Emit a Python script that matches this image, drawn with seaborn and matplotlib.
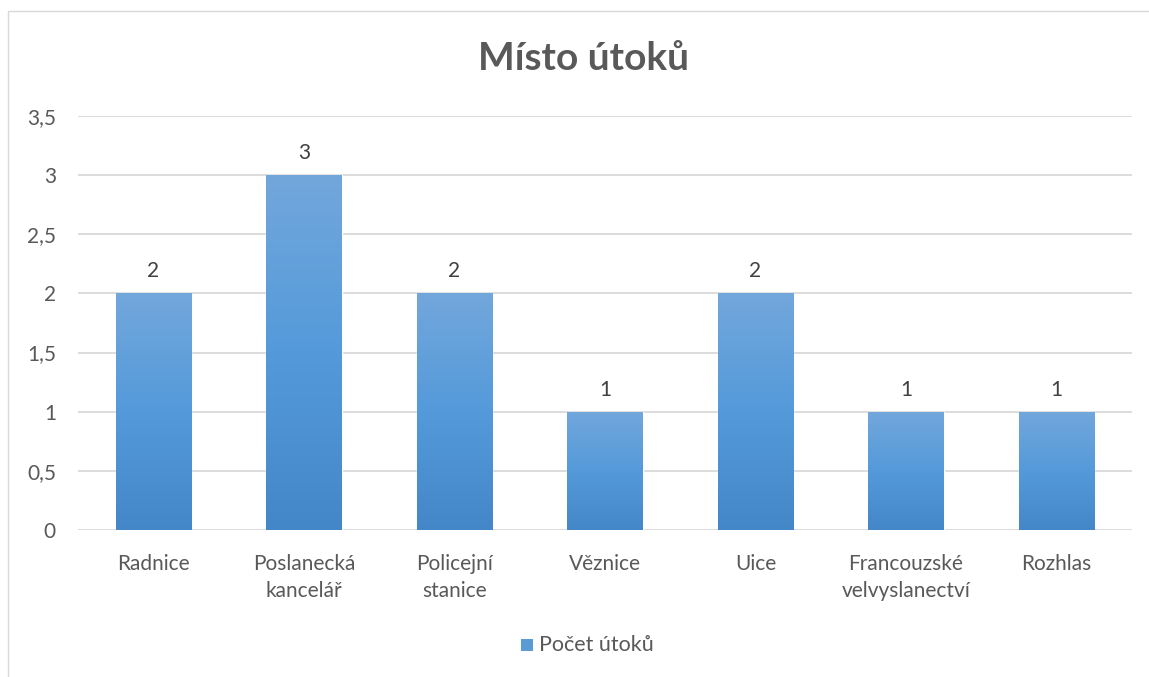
import numpy as np
import pandas as pd
import matplotlib
matplotlib.use("Agg")
import matplotlib.pyplot as plt
from matplotlib.patches import Rectangle
from matplotlib.ticker import FuncFormatter
import seaborn as sns

# Data
mista = ["Radnice", "Poslanecká\nkancelář", "Policejní\nstanice", "Věznice",
         "Uice", "Francouzské\nvelvyslanectví", "Rozhlas"]
pocet = [2, 3, 2, 1, 2, 1, 1]

df = pd.DataFrame({"misto": mista, "pocet": pocet})

sns.set_theme(style="white")
plt.rcParams["font.family"] = ["Lato", "DejaVu Sans"]

text_col = "#595959"
grid_col = "#d9d9d9"
fs = 15

fig = plt.figure(figsize=(11.49, 6.77), dpi=100)
ax = fig.add_axes([0.068, 0.217, 0.917, 0.612])

sns.barplot(data=df, x="misto", y="pocet", color="#5b9bd5", width=0.5,
            saturation=1, ax=ax, zorder=3)

ax.set_ylim(0, 3.5)
ax.set_xlim(-0.5, len(mista) - 0.5)
ax.set_yticks(np.arange(0, 3.51, 0.5))
ax.yaxis.set_major_formatter(FuncFormatter(lambda v, p: f"{v:g}".replace(".", ",")))
ax.grid(axis="y", color=grid_col, linewidth=1.3, zorder=0)
ax.set_axisbelow(True)
for s in ax.spines.values():
    s.set_visible(False)
ax.set_xlabel("")
ax.set_ylabel("")
ax.tick_params(axis="both", length=0, labelsize=fs, colors=text_col)
ax.tick_params(axis="y", pad=16)
ax.tick_params(axis="x", pad=17)
for lbl in ax.get_xticklabels():
    lbl.set_linespacing(1.45)

# gradient fill on bars (light top, darker bottom)
grad = np.linspace(0, 1, 256).reshape(-1, 1)
cmap = matplotlib.colors.LinearSegmentedColormap.from_list(
    "g", ["#4487c8", "#549ada", "#72a7dc"])
for bar in ax.patches:
    x0, y0 = bar.get_x(), bar.get_y()
    w, h = bar.get_width(), bar.get_height()
    im = ax.imshow(grad, extent=[x0, x0 + w, y0, y0 + h], origin="lower",
                   aspect="auto", cmap=cmap, zorder=4)
    im.set_clip_path(bar)
    ax.text(x0 + w / 2, h + 0.1, f"{h:g}", ha="center", va="bottom",
            fontsize=fs, color="#404040", zorder=5)

ax.set_xlim(-0.5, len(mista) - 0.5)
ax.set_ylim(0, 3.5)

fig.suptitle("Místo útoků", x=0.508, y=0.94, fontsize=28, fontweight="bold",
             color=text_col)

# legend
fig.patches.append(Rectangle((0.4535, 0.038), 0.0105, 0.018, transform=fig.transFigure,
                             facecolor="#5b9bd5", edgecolor="none"))
fig.text(0.4695, 0.047, "Počet útoků", ha="left", va="center", fontsize=15.5,
         color=text_col)

# chart border
fig.patches.append(Rectangle((8 / 1149, -0.1), 1.2, 1 - 11 / 677 + 0.1,
                             transform=fig.transFigure, facecolor="none",
                             edgecolor=grid_col, linewidth=1))

fig.savefig("out.png", dpi=100)
